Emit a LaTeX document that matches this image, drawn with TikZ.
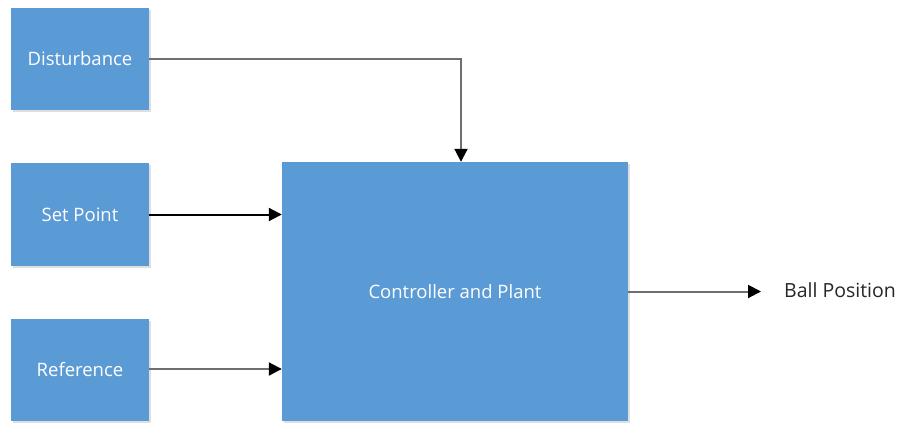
\documentclass[tikz,border=0pt]{standalone}
\usepackage{fontspec}
\setmainfont{Open Sans}
\usetikzlibrary{arrows.meta,shadows}
\definecolor{boxblue}{HTML}{5B9BD5}
\definecolor{linegray}{HTML}{6F6F6F}
\definecolor{txtdark}{HTML}{262626}
\tikzset{
  blockbox/.style={fill=boxblue, draw=none, text=white, inner sep=0pt,
    font=\fontsize{18.5}{22}\selectfont,
    drop shadow={shadow xshift=1.5pt, shadow yshift=-1.5pt, opacity=0.25}},
  conn/.style={draw=linegray, line width=2pt, -{Triangle[length=13pt,width=13pt,fill=black,color=black]}},
  connblack/.style={conn, draw=black}
}
\begin{document}
\begin{tikzpicture}[x=1pt,y=-1pt]
\useasboundingbox (0,0) rectangle (904,423);
\node[blockbox, minimum width=138pt, minimum height=102pt] (dist) at (80,59) {Disturbance};
\node[blockbox, minimum width=138pt, minimum height=103pt] (sp) at (80,214.5) {Set Point};
\node[blockbox, minimum width=138pt, minimum height=102pt] (ref) at (80,370) {Reference};
\node[blockbox, minimum width=346pt, minimum height=259pt] (ctrl) at (455,291.5) {Controller and Plant};
\node[anchor=west, inner sep=0pt, text=txtdark, font=\fontsize{19.5}{23}\selectfont] (bp) at (784,290) {Ball Position};
\coordinate (out) at (761,291.5);
\draw[conn] (dist.east) -| ([xshift=6pt]ctrl.north);
\draw[connblack] (sp.east) -- (sp.east -| ctrl.west);
\draw[conn] ([yshift=1pt]ref.east) -- ([yshift=1pt]ref.east -| ctrl.west);
\draw[conn] (ctrl.east) -- (out);
\end{tikzpicture}
\end{document}
